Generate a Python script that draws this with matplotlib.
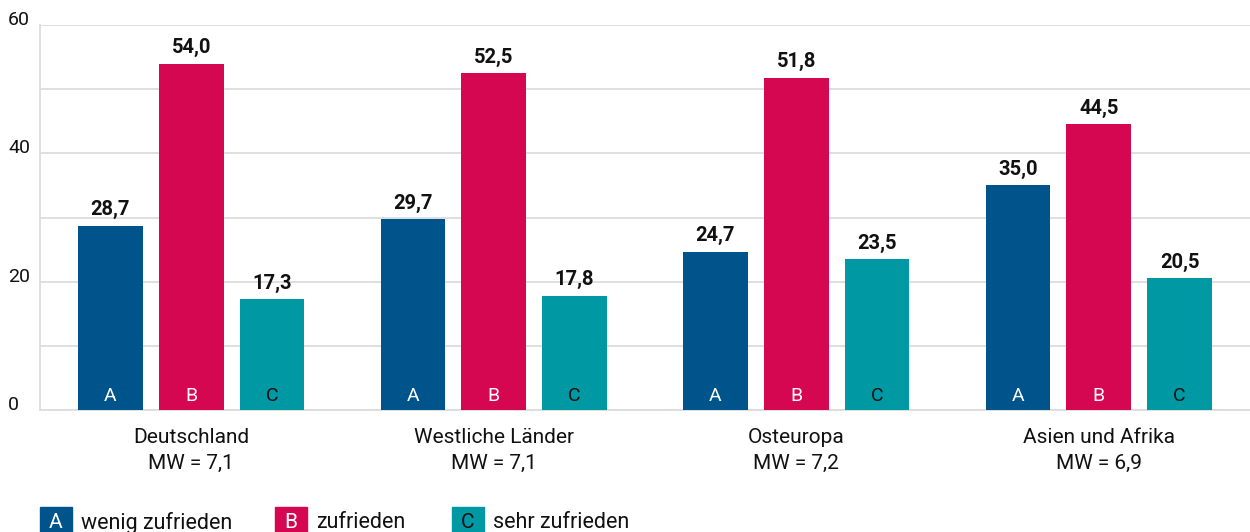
import numpy as np
import matplotlib.pyplot as plt
from matplotlib.patches import Rectangle

plt.rcParams['font.family'] = ['Roboto', 'DejaVu Sans']

regions = ["Deutschland", "Westliche Länder", "Osteuropa", "Asien und Afrika"]
mean_values = ["7,1", "7,1", "7,2", "6,9"]
wenig = [28.7, 29.7, 24.7, 35.0]
zufrieden = [54.0, 52.5, 51.8, 44.5]
sehr = [17.3, 17.8, 23.5, 20.5]
letters = ["A", "B", "C"]
legend_labels = ["wenig zufrieden", "zufrieden", "sehr zufrieden"]
colors = ["#00548C", "#D60751", "#0098A3"]
letter_colors = ["white", "white", "#111111"]

series = [wenig, zufrieden, sehr]

fig = plt.figure(figsize=(12.5, 5.32), dpi=100)
ax = fig.add_axes([0.032, 0.2293, 0.968, 0.7237])

x = np.arange(len(regions))
width = 0.2145
offset = 0.267

for i, vals in enumerate(series):
    pos = x + (i - 1) * offset
    ax.bar(pos, vals, width=width, color=colors[i], zorder=3)
    for p, v in zip(pos, vals):
        ax.text(p, v + 1.0, f"{v:.1f}".replace(".", ","), ha="center", va="bottom",
                fontsize=14.5, fontweight="bold", color="#111111", zorder=4)
        ax.text(p, 2.2, letters[i], ha="center", va="center", fontsize=14,
                color=letter_colors[i], zorder=4)

ax.set_xlim(-0.5, 3.5)
ax.set_ylim(0, 60)
ax.set_yticks(np.arange(0, 61, 10))
ax.yaxis.grid(True, color="#DCDCDC", linewidth=1.3, zorder=0)
ax.set_yticklabels([])
ax.tick_params(axis="both", length=0)
ax.set_xticks([])
for s in ["top", "right"]:
    ax.spines[s].set_visible(False)
for s in ["left", "bottom"]:
    ax.spines[s].set_color("#DCDCDC")
    ax.spines[s].set_linewidth(1.3)

# y labels, placed left of the axis, slightly above the grid line
for t in [0, 20, 40, 60]:
    ax.annotate(str(t), xy=(0, t), xycoords=("axes fraction", "data"),
                xytext=(-23, 3.5), textcoords="offset points", ha="left",
                va="center", fontsize=14, color="#111111")

for xi, r, m in zip(x, regions, mean_values):
    ax.annotate(f"{r}\nMW = {m}", xy=(xi, 0), xycoords="data",
                xytext=(0, -13), textcoords="offset points", ha="center",
                va="top", fontsize=15, color="#111111", linespacing=1.45)

# legend along the bottom edge
leg_x = [40, 275, 452]
for i in range(3):
    x0 = leg_x[i] / 1250
    fig.patches.append(Rectangle((x0, -7 / 532), 32 / 1250, 32 / 532,
                                 transform=fig.transFigure, color=colors[i]))
    fig.text(x0 + 16 / 1250, 9 / 532, letters[i], ha="center", va="center",
             fontsize=15, color=letter_colors[i])
    fig.text(x0 + 41 / 1250, 9 / 532, legend_labels[i], ha="left",
             va="center", fontsize=15.5, color="#111111")

fig.savefig("out.png", dpi=100)
